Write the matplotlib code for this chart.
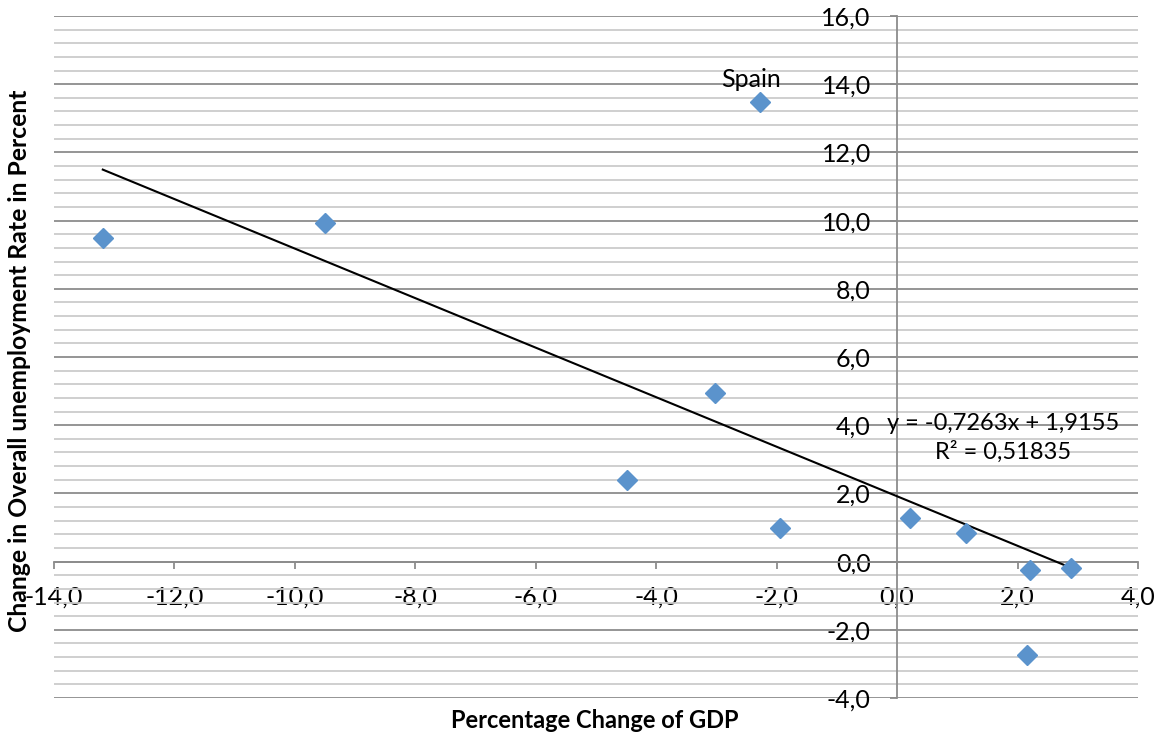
import matplotlib
matplotlib.use("Agg")
import matplotlib.pyplot as plt
import numpy as np
from matplotlib.ticker import MultipleLocator, FuncFormatter

# ---- data ----
gdp_change = [-13.19, -9.50, -2.27, -3.02, -4.48, -1.94, 0.22, 1.15, 2.21, 2.89, 2.15]
unemp_change = [9.50, 9.94, 13.49, 4.93, 2.38, 1.00, 1.29, 0.85, -0.26, -0.20, -2.73]
labels = ["", "", "Spain", "", "", "", "", "", "", "", ""]
slope = -0.7263
intercept = 1.9155
eq_text = "y = -0,7263x + 1,9155"
r2_text = "R² = 0,51835"
x_title = "Percentage Change of GDP"
y_title = "Change in Overall unemployment Rate in Percent"

plt.rcParams['font.family'] = ['Lato', 'DejaVu Sans']

fig = plt.figure(figsize=(11.63, 7.35), dpi=100)
W, H = 1163, 735
l, r, t, b = 54, 1138, 16, 698
ax = fig.add_axes([l / W, 1 - b / H, (r - l) / W, (b - t) / H])

ax.set_xlim(-14, 4)
ax.set_ylim(-4, 16)

# gridlines
ax.yaxis.set_major_locator(MultipleLocator(2))
ax.yaxis.set_minor_locator(MultipleLocator(0.4))
ax.xaxis.set_major_locator(MultipleLocator(2))
ax.grid(axis='y', which='major', color='#8c8c8c', lw=1.3, zorder=0)
ax.grid(axis='y', which='minor', color='#cccccc', lw=1.3, zorder=0)
ax.set_axisbelow(True)

for s in ['top', 'right']:
    ax.spines[s].set_visible(False)
ax.spines['left'].set_position(('data', 0))
ax.spines['bottom'].set_position(('data', 0))
for s in ['left', 'bottom']:
    ax.spines[s].set_color('#8c8c8c')
    ax.spines[s].set_linewidth(1.3)

fmt = FuncFormatter(lambda v, p: f"{v:.1f}".replace('.', ','))
ax.xaxis.set_major_formatter(fmt)
ax.yaxis.set_major_formatter(fmt)
ax.tick_params(axis='x', which='major', direction='out', length=5, width=1.3,
               color='#8c8c8c', labelsize=18, pad=12)
ax.tick_params(axis='y', which='major', direction='out', length=5, width=1.3,
               color='#8c8c8c', labelsize=18, pad=14)
ax.tick_params(axis='y', which='minor', length=0)

# trendline
xs = np.array([min(gdp_change), max(gdp_change)])
ax.plot(xs, slope * xs + intercept, color='black', lw=1.5, zorder=3)

# points
ax.plot(gdp_change, unemp_change, linestyle='none', marker='D', ms=10,
        color='#5b93cc', markeredgecolor='#5b93cc', zorder=4)

for x, y, lab in zip(gdp_change, unemp_change, labels):
    if lab:
        ax.annotate(lab, (x, y), xytext=(-9, 22), textcoords='offset pixels',
                    ha='center', va='center', fontsize=18, zorder=5)

ax.text(1003, H - 424, eq_text, transform=None, ha='center', va='center', fontsize=17)
ax.text(1003, H - 452, r2_text, transform=None, ha='center', va='center', fontsize=17)

fig.text(595 / W, 1 - 720 / H, x_title, ha='center', va='center',
         fontsize=17, fontweight='bold')
fig.text(20 / W, 1 - 361 / H, y_title, ha='center', va='center',
         fontsize=17.8, fontweight='bold', rotation=90)

fig.savefig("out.png", dpi=100)
